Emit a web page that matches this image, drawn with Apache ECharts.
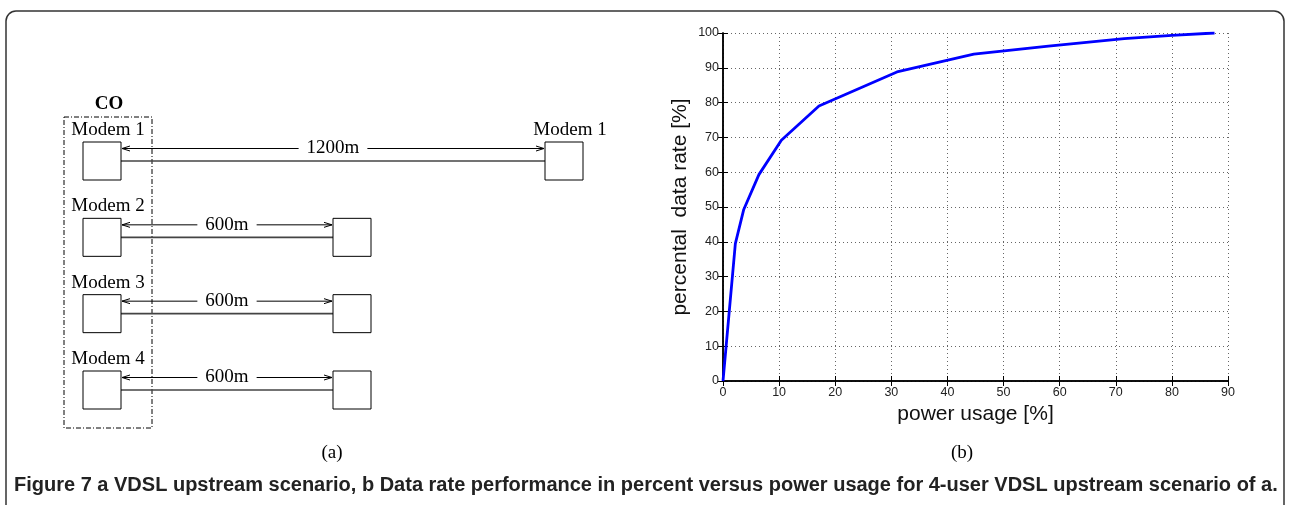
<!DOCTYPE html>
<html>
<head>
<meta charset="utf-8">
<script src="https://cdn.jsdelivr.net/npm/echarts@6/dist/echarts.min.js"></script>
<style>
  html, body { margin: 0; padding: 0; background: #fff; }
  #main { width: 1289px; height: 505px; }
</style>
</head>
<body>
<div id="main"></div>
<script>
// (b) data rate vs power usage
const powerUsage = [0, 2.2, 3.7, 6.4, 10.4, 17.1, 31.0, 44.7, 58.0, 71.5, 80.0, 87.6];
const dataRate   = [0, 39.5, 49.3, 59.3, 69.2, 79.0, 88.8, 93.9, 96.2, 98.4, 99.3, 100];

// (a) VDSL upstream scenario
const modems = ['Modem 1', 'Modem 2', 'Modem 3', 'Modem 4'];
const remoteNames = ['Modem 1', '', '', ''];
const loopLength = [1200, 600, 600, 600];

const captionText = 'Figure 7 a VDSL upstream scenario, b Data rate performance in percent versus power usage for 4-user VDSL upstream scenario of a.';

const serif = '"Liberation Serif", "DejaVu Serif", serif';
const sans = '"Liberation Sans", Arial, sans-serif';
const BOX = 38;

const measureCtx = document.createElement('canvas').getContext('2d');
function textWidth(t, font) {
  measureCtx.font = font;
  return measureCtx.measureText(t).width;
}

// one row of the scenario: CO modem, cable, remote modem, length arrow
function renderLoop(params, api) {
  const len = api.value(0);
  const row = api.value(1);
  const p0 = api.coord([0, row]);
  const p1 = api.coord([len, row]);
  const top = p0[1] - BOX / 2;
  const ay = top + 6.5;
  const label = len + 'm';
  const w = textWidth(label, '19px ' + serif);
  const mid = (p0[0] + p1[0]) / 2;
  const g1 = mid - w / 2 - 8;
  const g2 = mid + w / 2 + 8;
  const children = [
    { type: 'line', shape: { x1: p0[0], y1: p0[1], x2: p1[0], y2: p0[1] },
      style: { stroke: '#444', lineWidth: 1.6 } },
    { type: 'rect', shape: { x: p0[0] - BOX, y: top, width: BOX, height: BOX },
      style: { fill: '#fff', stroke: '#000', lineWidth: 1 } },
    { type: 'rect', shape: { x: p1[0], y: top, width: BOX, height: BOX },
      style: { fill: '#fff', stroke: '#000', lineWidth: 1 } },
    { type: 'line', shape: { x1: p0[0] + 1, y1: ay, x2: g1, y2: ay },
      style: { stroke: '#000', lineWidth: 1 } },
    { type: 'line', shape: { x1: g2, y1: ay, x2: p1[0] - 1, y2: ay },
      style: { stroke: '#000', lineWidth: 1 } },
    { type: 'polyline', shape: { points: [[p0[0] + 9, ay - 2.5], [p0[0] + 1, ay], [p0[0] + 9, ay + 2.5]] },
      style: { stroke: '#000', lineWidth: 1, fill: null } },
    { type: 'polyline', shape: { points: [[p1[0] - 9, ay - 2.5], [p1[0] - 1, ay], [p1[0] - 9, ay + 2.5]] },
      style: { stroke: '#000', lineWidth: 1, fill: null } },
    { type: 'text', x: mid, y: ay,
      style: { text: label, font: '19px ' + serif, fill: '#000', align: 'center', verticalAlign: 'middle' } },
    { type: 'text', x: p0[0] - BOX / 2 + 6, y: top - 12,
      style: { text: modems[params.dataIndex], font: '19px ' + serif, fill: '#000', align: 'center', verticalAlign: 'middle' } }
  ];
  const rn = remoteNames[params.dataIndex];
  if (rn) {
    children.push({ type: 'text', x: p1[0] + BOX / 2 + 6, y: top - 12,
      style: { text: rn, font: '19px ' + serif, fill: '#000', align: 'center', verticalAlign: 'middle' } });
  }
  return { type: 'group', children: children };
}

// dash-dot frame round the CO modems
function renderCO(params, api) {
  const a = api.coord([0, api.value(0)]);
  const b = api.coord([0, api.value(1)]);
  const x0 = a[0] - BOX - 19, x1 = a[0] + 31;
  const y0 = a[1] - BOX / 2 - 25, y1 = b[1] + BOX;
  return { type: 'group', children: [
    { type: 'rect', shape: { x: x0, y: y0, width: x1 - x0, height: y1 - y0 },
      style: { fill: null, stroke: '#000', lineWidth: 1, lineDash: [5, 2, 1, 2] } },
    { type: 'text', x: (x0 + x1) / 2 + 1, y: y0 - 13,
      style: { text: 'CO', font: 'bold 19px ' + serif, fill: '#000', align: 'center', verticalAlign: 'middle' } }
  ] };
}

const chart = echarts.init(document.getElementById('main'));

const frameAxis = {
  axisLine: { show: true, lineStyle: { color: '#000', width: 1.5 } },
  axisTick: { show: true, inside: true, length: 5, lineStyle: { color: '#000', width: 1 } },
  axisLabel: { show: false },
  splitLine: { show: false }
};

const option = {
  animation: false,
  backgroundColor: '#fff',
  grid: [
    { left: 723, top: 33, width: 505, height: 348 },
    { left: 121, top: 161, width: 424, height: 229 }
  ],
  xAxis: [
    {
      type: 'value', gridIndex: 0, min: 0, max: 90, interval: 10, position: 'bottom',
      name: 'power usage [%]', nameLocation: 'middle', nameGap: 20,
      nameTextStyle: { fontFamily: sans, fontSize: 21, color: '#111' },
      axisLine: { show: true, onZero: false, lineStyle: { color: '#000', width: 1.5 } },
      axisTick: { show: true, inside: true, length: 5, lineStyle: { color: '#000', width: 1 } },
      axisLabel: { fontFamily: sans, fontSize: 12.5, color: '#222', margin: 5 },
      splitLine: { show: true, lineStyle: { color: '#666', width: 1, type: [1, 3] } }
    },
    Object.assign({ type: 'value', gridIndex: 0, min: 0, max: 90, interval: 10, position: 'top' }, frameAxis),
    { type: 'value', gridIndex: 1, min: 0, max: 1200, show: false }
  ],
  yAxis: [
    {
      type: 'value', gridIndex: 0, min: 0, max: 100, interval: 10, position: 'left',
      name: 'percental  data rate [%]', nameLocation: 'middle', nameGap: 32, nameRotate: 90,
      nameTextStyle: { fontFamily: sans, fontSize: 21, color: '#111' },
      axisLine: { show: true, onZero: false, lineStyle: { color: '#000', width: 1.5 } },
      axisTick: { show: true, inside: true, length: 5, lineStyle: { color: '#000', width: 1 } },
      axisLabel: { fontFamily: sans, fontSize: 12.5, color: '#222', margin: 4 },
      splitLine: { show: true, lineStyle: { color: '#666', width: 1, type: [1, 3] } }
    },
    Object.assign({ type: 'value', gridIndex: 0, min: 0, max: 100, interval: 10, position: 'right' }, frameAxis),
    { type: 'value', gridIndex: 1, min: 0, max: 3, inverse: true, show: false }
  ],
  series: [
    {
      type: 'line', xAxisIndex: 0, yAxisIndex: 0,
      data: powerUsage.map((p, i) => [p, dataRate[i]]),
      showSymbol: false, smooth: false,
      lineStyle: { color: '#0000ff', width: 2.8 }
    },
    {
      type: 'custom', xAxisIndex: 2, yAxisIndex: 2, clip: false,
      data: [[0, modems.length - 1]],
      renderItem: renderCO
    },
    {
      type: 'custom', xAxisIndex: 2, yAxisIndex: 2, clip: false,
      data: loopLength.map((d, i) => [d, i]),
      renderItem: renderLoop
    }
  ],
  graphic: [
    { type: 'rect', shape: { x: 6, y: 11, width: 1278, height: 560, r: 10 },
      style: { fill: null, stroke: '#333', lineWidth: 1.5 }, silent: true },
    { type: 'text', x: 332, y: 453,
      style: { text: '(a)', font: '19px ' + serif, fill: '#000', align: 'center', verticalAlign: 'middle' } },
    { type: 'text', x: 962, y: 453,
      style: { text: '(b)', font: '19px ' + serif, fill: '#000', align: 'center', verticalAlign: 'middle' } },
    { type: 'text', x: 14, y: 485,
      style: { text: captionText, font: 'bold 20px ' + sans, fill: '#222', align: 'left', verticalAlign: 'middle' } }
  ]
};

chart.setOption(option);
</script>
</body>
</html>
